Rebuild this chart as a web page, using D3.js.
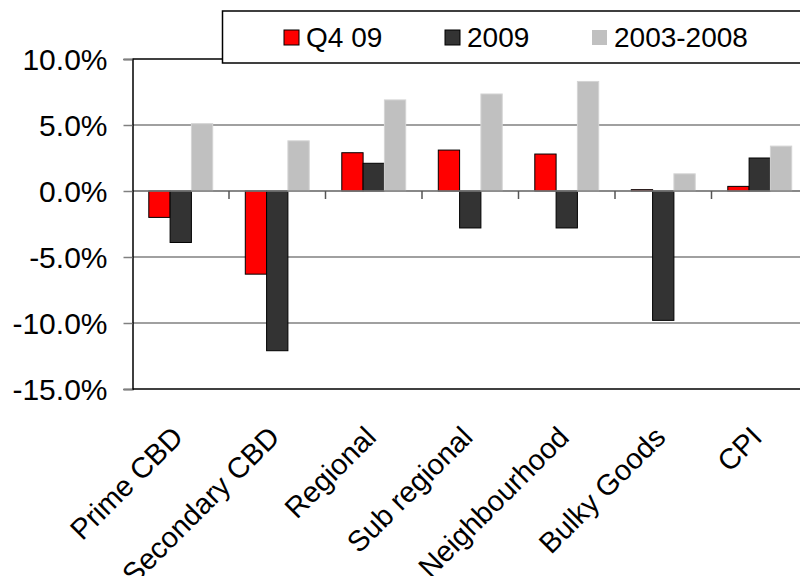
<!DOCTYPE html>
<html>
<head>
<meta charset="utf-8">
<script src="https://cdn.jsdelivr.net/npm/d3@7/dist/d3.min.js"></script>
<style>
  html, body { margin: 0; padding: 0; background: #fff; }
  svg { display: block; font-family: "Liberation Sans", Arial, sans-serif; }
</style>
</head>
<body>
<svg id="chart" width="800" height="576"></svg>
<script>
// Retail property returns by sector vs CPI (%)
const categories = ["Prime CBD", "Secondary CBD", "Regional", "Sub regional", "Neighbourhood", "Bulky Goods", "CPI"];
const seriesNames = ["Q4 09", "2009", "2003-2008"];
const seriesColors = ["#ff0000", "#333333", "#c0c0c0"];
const q409 = [-2.0, -6.3, 2.9, 3.1, 2.8, 0.1, 0.35];
const y2009 = [-3.9, -12.1, 2.1, -2.8, -2.8, -9.8, 2.5];
const y0308 = [5.1, 3.8, 6.9, 7.35, 8.3, 1.3, 3.4];
const yTicks = [10, 5, 0, -5, -10, -15];

const seriesValues = [q409, y2009, y0308];

const svg = d3.select("#chart");
const plot = { left: 132.5, right: 808, top: 59, bottom: 389 };

const x = d3.scaleBand().domain(categories).range([plot.left, plot.right]).paddingInner(0).paddingOuter(0);
const xs = d3.scaleBand().domain(seriesNames).range([0, x.bandwidth()]).paddingInner(0).paddingOuter(0.765);
const y = d3.scaleLinear().domain([-15, 10]).range([plot.bottom, plot.top]);

// gridlines
svg.append("g")
  .selectAll("line")
  .data(yTicks.filter(t => t !== 10 && t !== -15))
  .join("line")
  .attr("x1", plot.left).attr("x2", plot.right)
  .attr("y1", d => y(d)).attr("y2", d => y(d))
  .attr("stroke", "#808080").attr("stroke-width", 1.5);

// plot border top / bottom
svg.append("line").attr("x1", plot.left).attr("x2", plot.right)
  .attr("y1", y(10)).attr("y2", y(10)).attr("stroke", "#000").attr("stroke-width", 1.5);
svg.append("line").attr("x1", plot.left).attr("x2", plot.right)
  .attr("y1", y(-15)).attr("y2", y(-15)).attr("stroke", "#000").attr("stroke-width", 1.5);

// bars
const rows = [];
categories.forEach((c, i) => {
  seriesNames.forEach((s, j) => rows.push({ c, s, j, v: seriesValues[j][i] }));
});
svg.append("g")
  .selectAll("rect")
  .data(rows)
  .join("rect")
  .attr("x", d => x(d.c) + xs(d.s))
  .attr("width", xs.bandwidth())
  .attr("y", d => Math.min(y(d.v), y(0)))
  .attr("height", d => Math.abs(y(d.v) - y(0)))
  .attr("fill", d => seriesColors[d.j])
  .attr("stroke", d => d.j === 2 ? "#d4d4d4" : "#000")
  .attr("stroke-width", 1);

// category axis along zero
const xAxis = svg.append("g").attr("transform", `translate(0,${y(0)})`);
xAxis.append("line").attr("x1", plot.left).attr("x2", plot.right)
  .attr("stroke", "#808080").attr("stroke-width", 1.5);
xAxis.selectAll("line.tick")
  .data(categories.slice(1))
  .join("line")
  .attr("class", "tick")
  .attr("x1", d => x(d)).attr("x2", d => x(d))
  .attr("y1", 0).attr("y2", 8)
  .attr("stroke", "#555").attr("stroke-width", 1.5);

// value axis (plain hyphen for negatives)
const pct = d => (d < 0 ? "-" : "") + Math.abs(d).toFixed(1) + "%";
const yAxis = d3.axisLeft(y).tickValues(yTicks).tickSize(9).tickPadding(16).tickFormat(pct);
const ya = svg.append("g").attr("transform", `translate(${plot.left},0)`).call(yAxis);
ya.select(".domain").attr("stroke", "#000").attr("stroke-width", 1.5);
ya.selectAll(".tick line").attr("stroke", "#808080").attr("stroke-width", 1.5);
ya.selectAll(".tick text")
  .attr("font-size", 30).attr("fill", "#000")
  .attr("font-family", "'Liberation Sans', Arial, sans-serif")
  .attr("dy", "0.35em");

// rotated category labels
svg.append("g")
  .selectAll("text")
  .data(categories)
  .join("text")
  .attr("transform", d => `translate(${x(d) + x.bandwidth() / 2 + 4},${plot.bottom + 50}) rotate(-45)`)
  .attr("text-anchor", "end")
  .attr("font-size", 29)
  .attr("fill", "#000")
  .text(d => d);

// legend
const legend = svg.append("g");
legend.append("rect")
  .attr("x", 222.5).attr("y", 11).attr("width", 620).attr("height", 52)
  .attr("fill", "#fff").attr("stroke", "#000").attr("stroke-width", 1.5);
const legendX = [284, 445, 592];
seriesNames.forEach((s, j) => {
  legend.append("rect")
    .attr("x", legendX[j]).attr("y", 30).attr("width", 15).attr("height", 15)
    .attr("fill", seriesColors[j])
    .attr("stroke", j === 2 ? "none" : "#000").attr("stroke-width", 1);
  legend.append("text")
    .attr("x", legendX[j] + 22).attr("y", 47)
    .attr("font-size", 28).attr("fill", "#000")
    .text(s);
});
</script>
</body>
</html>
